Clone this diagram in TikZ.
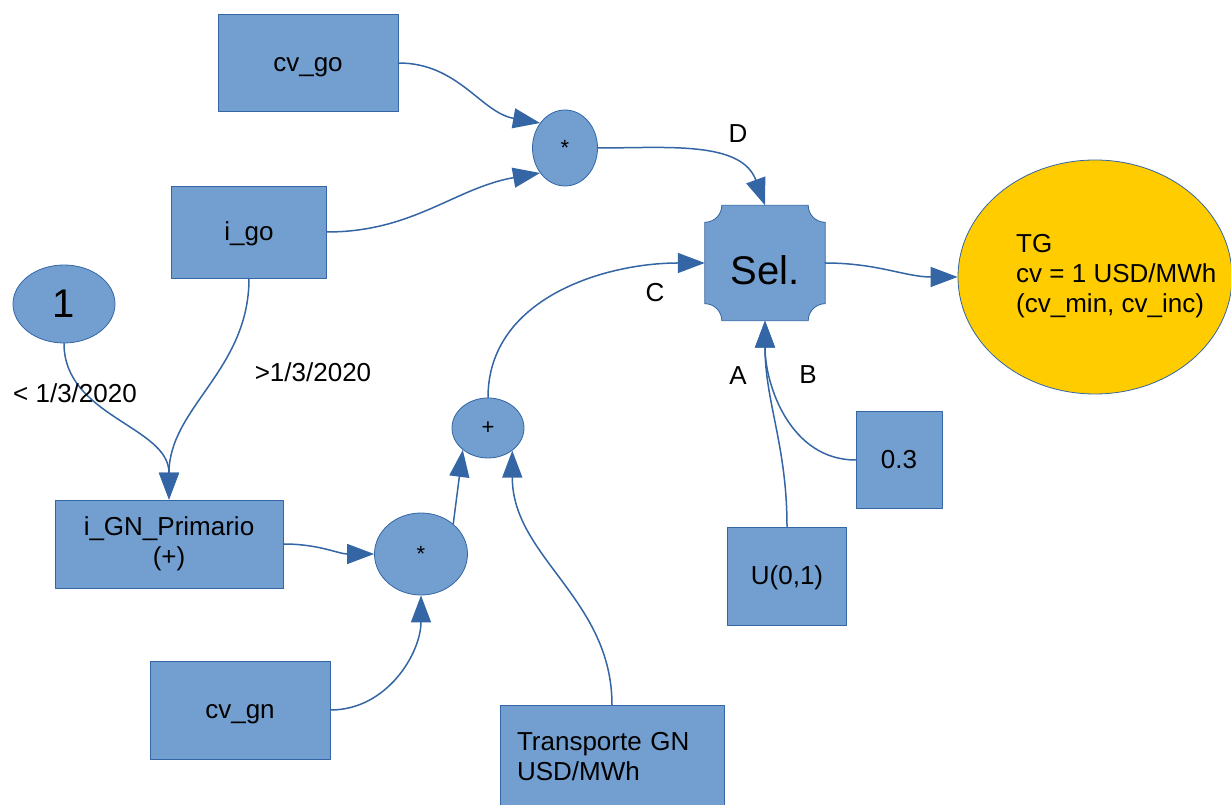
\documentclass[tikz,border=0pt]{standalone}
\usepackage{fontspec}
\setmainfont{Liberation Sans}
\usetikzlibrary{shapes.geometric,arrows.meta,backgrounds}
\definecolor{boxfill}{HTML}{729FCF}
\definecolor{boxline}{HTML}{3465A4}
\definecolor{tgfill}{HTML}{FFCC00}

\begin{document}
\begin{tikzpicture}[x=1pt, y=1pt, line cap=round, line join=round,
		font=\fontsize{26}{30}\selectfont, >={Triangle[length=27pt,width=20pt]}]
			\tikzset{box/.style={rectangle, draw=boxline, fill=boxfill, line width=0.8pt, inner sep=0pt},
				oval/.style={ellipse, draw=boxline, fill=boxfill, line width=0.8pt, inner sep=0pt},
				line box/.style={text height=23.5pt, text depth=5.5pt},
				wire/.style={boxline, line width=1.5pt, ->}}
			\useasboundingbox (0,0) rectangle (1231,805);
			% blocks
			\node[box, line box, minimum width=180pt, minimum height=97pt] (cvgo) at (308,742) {cv\_go};
			\node[box, line box, minimum width=155pt, minimum height=92pt] (igo) at (249,573) {i\_go};
			\node[oval, minimum width=102pt, minimum height=78pt, font=\fontsize{40}{44}\selectfont] (one) at (64,501) {1};
			\node[oval, minimum width=65pt, minimum height=76pt, font=\fontsize{22}{26}\selectfont] (mulgo) at (565,657) {*};
			\node[inner sep=0pt, text height=43pt, text depth=0pt, minimum width=120pt, minimum height=115pt, font=\fontsize{40}{44}\selectfont] (sel) at (765,542) {Sel.};
			\begin{scope}[on background layer]
				\filldraw[draw=boxline, fill=boxfill, line width=0.8pt]
					([xshift=17pt]sel.north west) -- ([xshift=-17pt]sel.north east) arc[start angle=180, end angle=270, radius=17pt]
					-- ([yshift=17pt]sel.south east) arc[start angle=90, end angle=180, radius=17pt]
					-- ([xshift=17pt]sel.south west) arc[start angle=0, end angle=90, radius=17pt]
					-- ([yshift=-17pt]sel.north west) arc[start angle=270, end angle=360, radius=17pt] -- cycle;
			\end{scope}
			\node[ellipse, draw=boxline, fill=tgfill, line width=0.8pt, minimum width=274pt, minimum height=234pt] (tg) at (1095,528) {};
			\node[anchor=west, align=left, inner sep=0pt] (tgtext) at (1016,529) {TG\\cv = 1 USD/MWh\\(cv\_min, cv\_inc)};
			\node[box, minimum width=228pt, minimum height=88pt, align=center] (ign) at (169,261) {i\_GN\_Primario\\(+)};
			\node[oval, minimum width=93pt, minimum height=82pt, font=\fontsize{22}{26}\selectfont] (mulgn) at (421,251) {*};
			\node[oval, minimum width=72pt, minimum height=60pt, font=\fontsize{22}{26}\selectfont] (plus) at (488,377) {+};
			\node[box, line box, minimum width=180pt, minimum height=98pt] (cvgn) at (240,95) {cv\_gn};
			\node[box, minimum width=224pt, minimum height=103pt, text width=190pt, align=left] (transp) at (612,48) {Transporte GN\\USD/MWh};
			\node[box, line box, minimum width=119pt, minimum height=98pt] (unif) at (787,229) {U(0,1)};
			\node[box, line box, minimum width=86pt, minimum height=97pt] (cte) at (899,345) {0.3};
			% connectors
			\draw[wire] (cvgo.east) to[out=0, in=170] (mulgo.135);
			\draw[wire] (igo.east) to[out=0, in=190] (mulgo.225);
			\draw[wire] (mulgo.east) to[out=0, in=110] (sel.north);
			\draw[wire] (plus.north) to[out=90, in=180] (sel.west);
			\draw[wire] (sel.east) to[out=0, in=180] (tg.west);
			\draw[wire] (one.south) to[out=270, in=90] (ign.north);
			\draw[wire] (igo.south) to[out=270, in=90] (ign.north);
			\draw[wire] (ign.east) to[out=0, in=180] (mulgn.west);
			\draw[wire] (mulgn.43) -- (plus.221);
			\draw[wire] (cvgn.east) to[out=0, in=270] (mulgn.south);
			\draw[wire] (transp.north) to[out=90, in=270] (plus.317);
			\draw[wire] (unif.north) to[out=90, in=270] (sel.south);
			\draw[wire] (cte.west) to[out=180, in=270] (sel.south);
			% labels
			\node (lbld) at (738,671) {D};
			\node (lblc) at (655,512) {C};
			\node (lbla) at (738,429) {A};
			\node (lblb) at (808,430) {B};
			\node (lblold) at (75,412) {< 1/3/2020};
			\node (lblnew) at (313,433) {>1/3/2020};
		\end{tikzpicture}
\end{document}
